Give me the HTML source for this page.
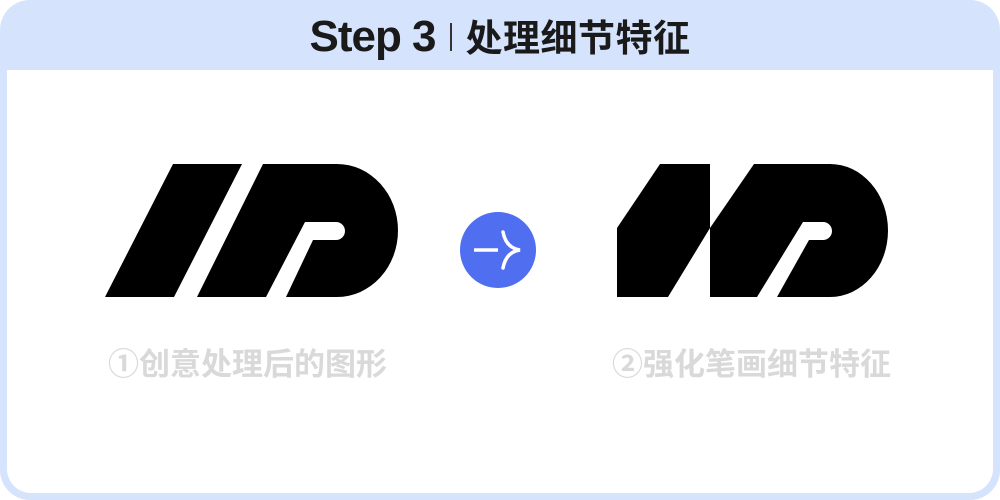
<!DOCTYPE html>
<html><head><meta charset="utf-8"><style>
html,body{margin:0;padding:0;width:1000px;height:500px;background:#fff;overflow:hidden}
.frame{position:absolute;left:0;top:0;width:1000px;height:500px;background:#d5e3fd;border-radius:30px}
.inner{position:absolute;left:7px;top:70px;width:986px;height:423px;background:#fff;border-radius:0 0 24px 24px}
.title{position:absolute;left:0;top:10px;width:1000px;text-align:center;font:bold 44px "Liberation Sans","Noto Sans CJK SC",sans-serif;color:#1a1a1a;letter-spacing:-1px;line-height:54px;white-space:nowrap}
.title .sep{display:inline-block;width:2px;height:28px;background:#333;margin:0 14px 0 14px;vertical-align:0px}
.title .cn{font-size:37px;letter-spacing:0.5px}
.lbl{position:absolute;top:344px;font:bold 31px "Liberation Sans","Noto Sans CJK SC",sans-serif;color:#d9d9d9;line-height:42px;white-space:nowrap}
</style></head><body>
<div class="frame"></div><div class="inner"></div>
<div class="title">Step 3<span class="sep"></span><span class="cn">处理细节特征</span></div>
<svg width="1000" height="500" style="position:absolute;left:0;top:0">
<path d="M173,164 L242,164 L174,297 L105,297 Z" fill="#000"/>
<path d="M263,164 L337,164 A61,66.5 0 0 1 337,297 L286,297 L313,240 L336,240 A9,9 0 0 0 336,222 L305,222 L266,297 L197,297 Z" fill="#000"/>
<path d="M660,164 L710,164 L710,228 L668,297 L617,297 L617,228 Z" fill="#000"/>
<path d="M754,164 L830,164 A58,66.5 0 0 1 830,297 L777,297 L809,240 L823,240 A9,9 0 0 0 823,222 L803,222 L757,297 L710,297 L710,228 Z" fill="#000"/>
<circle cx="498" cy="250" r="38" fill="#4f6ef0"/>
<path d="M474,250 L498,250" stroke="#fff" stroke-width="3.5" fill="none"/>
<path d="M503,232 Q506,248 520,250 Q506,252 503,268" stroke="#fff" stroke-width="3.5" fill="none" stroke-linecap="round"/>
</svg>
<div class="lbl" style="left:108px">①创意处理后的图形</div>
<div class="lbl" style="left:612px">②强化笔画细节特征</div>
</body></html>
